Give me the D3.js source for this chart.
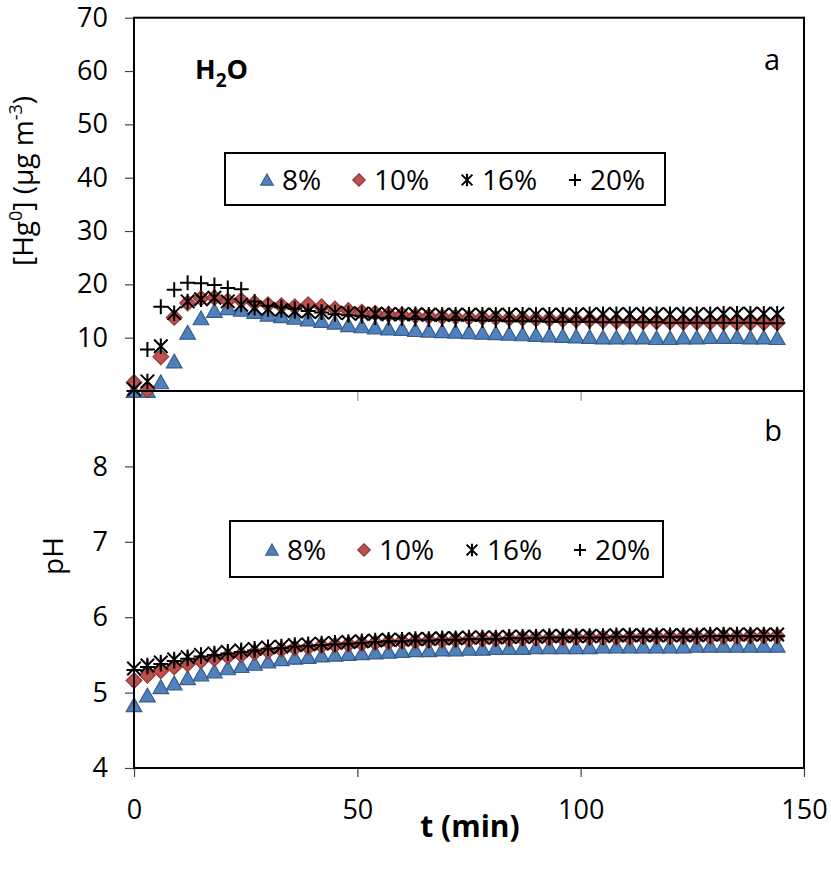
<!DOCTYPE html>
<html>
<head>
<meta charset="utf-8">
<script src="https://cdn.jsdelivr.net/npm/d3@7"></script>
<style>
  body { margin: 0; background: #fff; }
  text { font-family: "Open Sans", "Noto Sans", sans-serif; fill: #000; }
</style>
</head>
<body>
<script>
// time points (min)
const times = [0, 3, 6, 9, 12, 15, 18, 21, 24, 27, 30, 33, 36, 39, 42, 45, 48, 51, 54, 57,
  60, 63, 66, 69, 72, 75, 78, 81, 84, 87, 90, 93, 96, 99, 102, 105, 108, 111, 114, 117,
  120, 123, 126, 129, 132, 135, 138, 141, 144];

// panel a: [Hg0] (ug m-3)
const hg8 = [0, 0, 1.6, 5.5, 10.9, 13.6, 15, 15.5, 15.2, 14.8, 14.3, 14, 13.7, 13.4, 13.1, 12.8, 12.3, 12.1, 11.9, 11.7,
  11.6, 11.4, 11.3, 11.2, 11.1, 11, 10.9, 10.8, 10.7, 10.6, 10.5, 10.4, 10.3, 10.2, 10.1, 10, 10, 10, 10, 9.9,
  9.9, 10, 10, 10.1, 10.1, 10.1, 10, 10, 9.9];
const hg10 = [1.6, 0.2, 6.4, 13.8, 16.5, 17.4, 17.5, 16.9, 17, 16.5, 16.2, 16, 15.8, 16.2, 15.8, 15.4, 15.1, 14.8, 14.6, 14.4,
  14.3, 14.1, 14, 13.9, 13.9, 13.8, 13.8, 13.7, 13.6, 13.6, 13.5, 13.5, 13.4, 13.3, 13.3, 13.2, 13.1, 13.1, 13, 13,
  13, 12.9, 12.9, 12.9, 12.9, 12.8, 12.8, 12.8, 12.8];
const hg16 = [0.3, 1.8, 8.4, 14.6, 16.8, 17.2, 17.5, 16.8, 16.2, 15.6, 15.4, 15.2, 15, 14.9, 14.8, 14.7, 14.6, 14.5, 14.5, 14.4,
  14.4, 14.4, 14.3, 14.3, 14.3, 14.3, 14.3, 14.3, 14.3, 14.3, 14.3, 14.3, 14.3, 14.3, 14.4, 14.4, 14.4, 14.4, 14.4, 14.4,
  14.4, 14.4, 14.4, 14.4, 14.5, 14.5, 14.5, 14.5, 14.5];
const hg20 = [0, 7.8, 15.8, 19, 20.3, 20.2, 19.9, 19.3, 19.1, 16.8, 16, 15.7, 15.4, 15, 14.7, 14.4, 14.2, 14, 13.8, 13.7,
  13.6, 13.5, 13.4, 13.4, 13.3, 13.3, 13.2, 13.2, 13.1, 13.1, 13.1, 13, 13, 13, 13, 12.9, 12.9, 12.9, 12.9, 12.9,
  12.8, 12.8, 12.8, 12.8, 12.8, 12.8, 12.8, 12.7, 12.7];

// panel b: pH
const ph8 = [4.83, 4.96, 5.07, 5.12, 5.19, 5.24, 5.28, 5.32, 5.35, 5.38, 5.41, 5.44, 5.46, 5.47, 5.49, 5.5, 5.51, 5.52, 5.53, 5.54,
  5.55, 5.56, 5.56, 5.57, 5.57, 5.58, 5.58, 5.59, 5.59, 5.59, 5.6, 5.6, 5.6, 5.6, 5.6, 5.61, 5.61, 5.61, 5.61, 5.61,
  5.61, 5.61, 5.62, 5.62, 5.62, 5.62, 5.62, 5.62, 5.62];
const ph10 = [5.16, 5.23, 5.29, 5.34, 5.38, 5.42, 5.45, 5.48, 5.5, 5.53, 5.55, 5.57, 5.59, 5.6, 5.62, 5.63, 5.64, 5.65, 5.66, 5.67,
  5.68, 5.68, 5.69, 5.69, 5.7, 5.7, 5.71, 5.71, 5.71, 5.72, 5.72, 5.72, 5.72, 5.73, 5.73, 5.73, 5.73, 5.73, 5.74, 5.74,
  5.74, 5.74, 5.74, 5.74, 5.74, 5.74, 5.75, 5.75, 5.75];
const ph16 = [5.32, 5.36, 5.4, 5.44, 5.47, 5.5, 5.52, 5.54, 5.56, 5.58, 5.6, 5.61, 5.63, 5.64, 5.65, 5.66, 5.67, 5.68, 5.69, 5.7,
  5.7, 5.71, 5.71, 5.72, 5.72, 5.73, 5.73, 5.73, 5.74, 5.74, 5.74, 5.75, 5.75, 5.75, 5.75, 5.75, 5.76, 5.76, 5.76, 5.76,
  5.76, 5.76, 5.76, 5.77, 5.77, 5.77, 5.77, 5.77, 5.77];
const ph20 = [5.3, 5.34, 5.38, 5.42, 5.45, 5.48, 5.5, 5.52, 5.54, 5.56, 5.58, 5.59, 5.61, 5.62, 5.63, 5.64, 5.65, 5.66, 5.67, 5.68,
  5.68, 5.69, 5.69, 5.7, 5.7, 5.71, 5.71, 5.71, 5.72, 5.72, 5.72, 5.73, 5.73, 5.73, 5.73, 5.73, 5.74, 5.74, 5.74, 5.74,
  5.74, 5.74, 5.74, 5.75, 5.75, 5.75, 5.75, 5.75, 5.75];

const seriesNames = ['8%', '10%', '16%', '20%'];
const xTicks = [0, 50, 100, 150];
const topTicks = [10, 20, 30, 40, 50, 60, 70];
const botTicks = [4, 5, 6, 7, 8];

const W = 831, H = 874;
const svg = d3.select('body').append('svg').attr('width', W).attr('height', H);

const x = d3.scaleLinear().domain([0, 150]).range([134, 804]);
const yTop = d3.scaleLinear().domain([0, 70]).range([391, 17.7]);
const yBot = d3.scaleLinear().domain([4, 9]).range([768, 391]);

// marker shapes
function marker(sel, kind, s) {
  if (kind === 0) {
    sel.append('path')
      .attr('d', `M0,${-s * 0.5}L${s * 0.52},${s * 0.42}L${-s * 0.52},${s * 0.42}Z`)
      .attr('fill', '#4F81BD').attr('stroke', '#385D8A').attr('stroke-width', 1.2);
  } else if (kind === 1) {
    const r = s * 0.52;
    sel.append('path')
      .attr('d', `M0,${-r}L${r},0L0,${r}L${-r},0Z`)
      .attr('fill', '#C0504D').attr('stroke', '#8C3836').attr('stroke-width', 1.2);
  } else if (kind === 2) {
    const r = s * 0.45;
    sel.append('path')
      .attr('d', `M${-r},${-r}L${r},${r}M${-r},${r}L${r},${-r}M0,${-r * 1.15}L0,${r * 1.15}`)
      .attr('fill', 'none').attr('stroke', '#000').attr('stroke-width', 2);
  } else {
    const r = s * 0.5;
    sel.append('path')
      .attr('d', `M${-r},0L${r},0M0,${-r}L0,${r}`)
      .attr('fill', 'none').attr('stroke', '#000').attr('stroke-width', 2);
  }
}

function drawPanel(y, data, ticks, legendBox) {
  const g = svg.append('g');

  // y axis
  g.append('g')
    .attr('transform', 'translate(134,0)')
    .call(d3.axisLeft(y).tickValues(ticks).tickSize(9).tickPadding(17).tickFormat(d3.format('d')))
    .call(a => a.select('.domain').remove())
    .call(a => a.selectAll('text').style('font-size', '27px').attr('font-family', null))
    .call(a => a.selectAll('line').attr('stroke', '#444').attr('stroke-width', 1.2));

  // points
  data.forEach((vals, k) => {
    const pts = g.append('g');
    times.forEach((t, i) => {
      const m = pts.append('g').attr('transform', `translate(${x(t)},${y(vals[i])})`);
      marker(m, k, 15);
    });
  });

  // legend
  const lg = g.append('g');
  lg.append('rect')
    .attr('x', legendBox.x).attr('y', legendBox.y)
    .attr('width', legendBox.w).attr('height', legendBox.h)
    .attr('fill', '#fff').attr('stroke', '#000').attr('stroke-width', 2);
  const itemX = [0, 92, 200, 308];
  seriesNames.forEach((name, k) => {
    const ix = legendBox.x + 42 + itemX[k];
    const cy = legendBox.y + legendBox.h / 2 + 1;
    const m = lg.append('g').attr('transform', `translate(${ix},${cy})`);
    marker(m, k, 12);
    lg.append('text')
      .attr('x', ix + 15).attr('y', cy + 10)
      .style('font-size', '28px')
      .text(name);
  });
  return g;
}

drawPanel(yTop, [hg8, hg10, hg16, hg20], topTicks, { x: 225, y: 153, w: 440, h: 52 });
drawPanel(yBot, [ph8, ph10, ph16, ph20], botTicks, { x: 230, y: 521, w: 433, h: 56 });

// x axis ticks under panel a (no labels)
svg.append('g')
  .attr('transform', 'translate(0,391)')
  .call(d3.axisBottom(x).tickValues(xTicks).tickSize(10).tickFormat(''))
  .call(a => a.select('.domain').remove())
  .call(a => a.selectAll('line').attr('stroke', '#999').attr('stroke-width', 1.2));

// x axis panel b
svg.append('g')
  .attr('transform', 'translate(0,768)')
  .call(d3.axisBottom(x).tickValues(xTicks).tickSize(9).tickPadding(23))
  .call(a => a.select('.domain').remove())
  .call(a => a.selectAll('text').style('font-size', '27px').attr('font-family', null))
  .call(a => a.selectAll('line').attr('stroke', '#444').attr('stroke-width', 1.2));

// frames
svg.append('rect')
  .attr('x', 134).attr('y', yTop(70))
  .attr('width', 670).attr('height', yTop(0) - yTop(70))
  .attr('fill', 'none').attr('stroke', '#000').attr('stroke-width', 2);
svg.append('path')
  .attr('d', `M134,${yBot(9)}L134,${yBot(4)}L804,${yBot(4)}L804,${yBot(9)}`)
  .attr('fill', 'none').attr('stroke', '#000').attr('stroke-width', 2);

// labels
const yl = svg.append('text')
  .attr('transform', 'translate(33,181) rotate(-90)')
  .attr('text-anchor', 'middle')
  .style('font-size', '28px');
yl.append('tspan').text('[Hg');
yl.append('tspan').attr('dy', -11).style('font-size', '18px').text('0');
yl.append('tspan').attr('dy', 11).text('] (µg m');
yl.append('tspan').attr('dy', -11).style('font-size', '18px').text('-3');
yl.append('tspan').attr('dy', 11).text(')');

svg.append('text')
  .attr('transform', 'translate(63,556) rotate(-90)')
  .attr('text-anchor', 'middle')
  .style('font-size', '28px')
  .text('pH');

svg.append('text')
  .attr('x', 470).attr('y', 837)
  .attr('text-anchor', 'middle')
  .style('font-size', '30px').style('font-weight', 'bold')
  .text('t (min)');

const h2o = svg.append('text')
  .attr('x', 195).attr('y', 79)
  .style('font-size', '27px').style('font-weight', 'bold');
h2o.append('tspan').text('H');
h2o.append('tspan').attr('dy', 8).style('font-size', '19px').text('2');
h2o.append('tspan').attr('dy', -8).text('O');

svg.append('text')
  .attr('x', 772).attr('y', 70)
  .attr('text-anchor', 'middle')
  .style('font-size', '29px')
  .text('a');
svg.append('text')
  .attr('x', 773).attr('y', 441)
  .attr('text-anchor', 'middle')
  .style('font-size', '29px')
  .text('b');
</script>
</body>
</html>
